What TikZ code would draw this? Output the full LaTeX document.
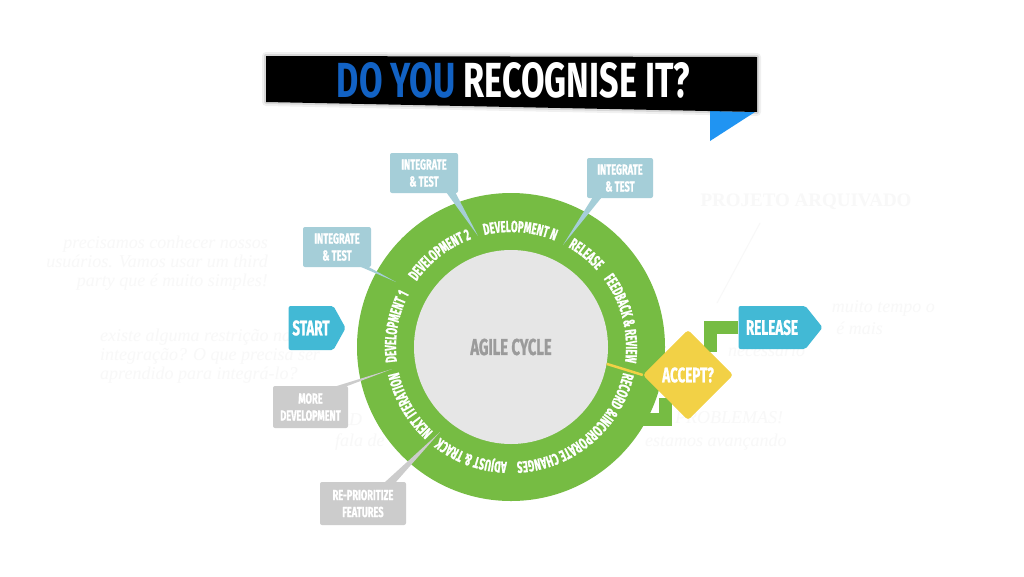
\documentclass[tikz,border=0pt]{standalone}
\usepackage{fontspec}
\usetikzlibrary{shapes.geometric,shapes.symbols,decorations.text,calc}
\newfontfamily\lf[FakeStretch=0.64,FakeBold=1]{Fira Sans}
\newfontfamily\rf[FakeStretch=0.6,FakeBold=1]{Fira Sans}
\newfontfamily\tf{Fira Sans}
\newfontfamily\bgserif{Liberation Serif}
\definecolor{ringgreen}{RGB}{118,188,67}
\definecolor{innergray}{RGB}{230,230,230}
\definecolor{cbox}{RGB}{165,206,216}
\definecolor{gbox}{RGB}{204,204,204}
\definecolor{dyblue}{RGB}{18,98,196}
\definecolor{ribbonblue}{RGB}{32,148,242}
\definecolor{sblue}{RGB}{66,185,213}
\definecolor{ayellow}{RGB}{242,209,70}
\definecolor{agray}{RGB}{155,155,155}
\definecolor{faint}{RGB}{248,248,248}
\newcommand\ringfont{\rf\bfseries\fontsize{16}{16}\selectfont\color{white}}
\newcommand\boxfont{\lf\bfseries\fontsize{14.5}{17}\selectfont}
\newcommand\ringlabel[3]{%
  \path[decorate,decoration={text along path,text align=center,text={|\ringfont|#3}}]
    ($(C)+(#1+#2:115)$) arc[start angle=#1+#2,end angle=#1-#2,radius=115];}
\begin{document}
\begin{tikzpicture}[x=1pt,y=1pt,
  bgtext/.style={text=faint,font=\bgserif\itshape\fontsize{18}{19}\selectfont,inner sep=0},
  callb/.style={fill=cbox,rounded corners=2pt,minimum width=68,minimum height=40,align=center,text=white,font=\boxfont,inner sep=0},
  callg/.style={fill=gbox,rounded corners=2pt,minimum height=42,align=center,text=white,font=\boxfont,inner sep=0},
  tailb/.style={fill=cbox},
  tailg/.style={fill=gbox},
  arrowbox/.style={signal,signal to=east,fill=sblue,text=white,rounded corners=2pt,inner sep=0,font=\lf\bfseries\fontsize{21}{21}\selectfont},
  acceptbox/.style={diamond,fill=ayellow,minimum width=90,minimum height=90,inner sep=0,rounded corners=3pt,text=white,font=\lf\bfseries\fontsize{21}{21}\selectfont},
  gline/.style={draw=ringgreen,line width=13},
  yline/.style={draw=ayellow,line width=2.5}]
\useasboundingbox (0,0) rectangle (1024,-576);
\fill[white] (0,0) rectangle (1024,-576);
% faint background texts
\node[bgtext,align=right,anchor=east] (bg1) at (268,-263) {precisamos conhecer nossos\\usuários. Vamos usar um third\\party que é muito simples!};
\node[bgtext,align=left,anchor=west] (bg2) at (100,-356) {existe alguma restrição na\\integração? O que precisa ser\\aprendido para integrá-lo?};
\node[bgtext,font=\bgserif\bfseries\fontsize{19}{19}\selectfont] (bg3) at (806,-202) {PROJETO ARQUIVADO};
\coordinate (fl1) at (760,-223);
\coordinate (fl2) at (717,-303);
\draw[faint,line width=1] (fl1) -- (fl2);
\node[bgtext,anchor=east] (bg4) at (935,-308) {muito tempo o};
\node[bgtext,anchor=east] (bg5) at (883,-328) {é mais};
\node[bgtext,anchor=west] (bg6) at (728,-350) {necessário};
\node[bgtext,anchor=west] (bg7) at (675,-418) {PROBLEMAS!};
\node[bgtext,anchor=west] (bg8) at (645,-442) {estamos avançando};
\node[bgtext,anchor=west] (bg9) at (338,-420) {AD};
\node[bgtext,anchor=west] (bg10) at (335,-442) {fala de};
% title banner
\coordinate (b1) at (266,-56);
\coordinate (b2) at (757,-57);
\coordinate (b3) at (757,-112);
\coordinate (b4) at (266,-102);
\draw[black,opacity=0.06,line width=8,line join=round] (b1)--(b2)--(b3)--(b4)--cycle;
\draw[black,opacity=0.10,line width=4,line join=round] (b1)--(b2)--(b3)--(b4)--cycle;
\fill[ribbonblue] (710,-111) -- (755,-112) -- (710,-141) -- cycle;
\fill[black] (b1)--(b2)--(b3)--(b4)--cycle;
\node[inner sep=0] (title) at (513.5,-80.5) {\resizebox{353pt}{35pt}{\tf\bfseries\color{dyblue}DO YOU \color{white}RECOGNISE IT?}};
% cycle
\coordinate (C) at (511,-347);
\node[circle,fill=ringgreen,minimum size=308,inner sep=0] (ring) at (C) {};
% connectors behind diamond
\node[acceptbox] (acc) at (688,-375) {};
\node[arrowbox,minimum width=84,minimum height=43,signal pointer angle=103] (rel) at (772,-327.5) {RELEASE};
\coordinate (back) at (640,-419);
\draw[gline] (acc.north east) |- (rel.west);
\draw[gline] (acc.south west) |- (back);
\node[circle,fill=innergray,minimum size=194,inner sep=0,text=agray,font=\lf\bfseries\fontsize{23}{23}\selectfont] (inner) at (C) {AGILE CYCLE};
\draw[yline] (inner.-10.6) -- (acc.west);
\node[acceptbox] (acc2) at (688,-375) {ACCEPT?};
% ring labels
\ringlabel{170}{40}{DEVELOPMENT 1}
\ringlabel{127.7}{40}{DEVELOPMENT 2}
\ringlabel{85.5}{40}{DEVELOPMENT N}
\ringlabel{51}{25}{RELEASE}
\ringlabel{14.4}{40}{FEEDBACK {\&} REVIEW}
\ringlabel{-50}{60}{RECORD {\&}INCORPORATE CHANGES}
\ringlabel{-110}{40}{ADJUST {\&} TRACK}
\ringlabel{210}{40}{NEXT ITERATION}
% callouts
\node[callb] (i1) at (337,-247) {INTEGRATE\\\& TEST};
\coordinate (t1) at (396,-282);
\fill[tailb] ($(i1.south east)+(-12,1)$) -- ($(i1.south east)+(-4,1)$) -- (t1) -- cycle;
\node[callb] (i2) at (424,-173) {INTEGRATE\\\& TEST};
\coordinate (t2) at (478,-236);
\fill[tailb] ($(i2.south east)+(-12,1)$) -- ($(i2.south east)+(-3,1)$) -- (t2) -- cycle;
\node[callb,minimum width=66] (i3) at (620,-178) {INTEGRATE\\\& TEST};
\coordinate (t3) at (563,-245);
\fill[tailb] ($(i3.south west)+(6,1)$) -- ($(i3.south west)+(15,1)$) -- (t3) -- cycle;
\node[callg,minimum width=75] (m1) at (310.5,-407) {MORE\\DEVELOPMENT};
\coordinate (t4) at (392,-369);
\fill[tailg] ($(m1.north east)+(-14,-1)$) -- ($(m1.north east)+(-3,-1)$) -- (t4) -- cycle;
\node[callg,minimum width=86,minimum height=43] (r1) at (363,-503.5) {RE-PRIORITIZE\\FEATURES};
\coordinate (t5) at (440,-432);
\fill[tailg] ($(r1.north east)+(-22,-1)$) -- ($(r1.north east)+(-11,-1)$) -- (t5) -- cycle;
% start
\node[arrowbox,minimum width=57,minimum height=44,signal pointer angle=122] (start) at (311,-328) {START};
\end{tikzpicture}
\end{document}
